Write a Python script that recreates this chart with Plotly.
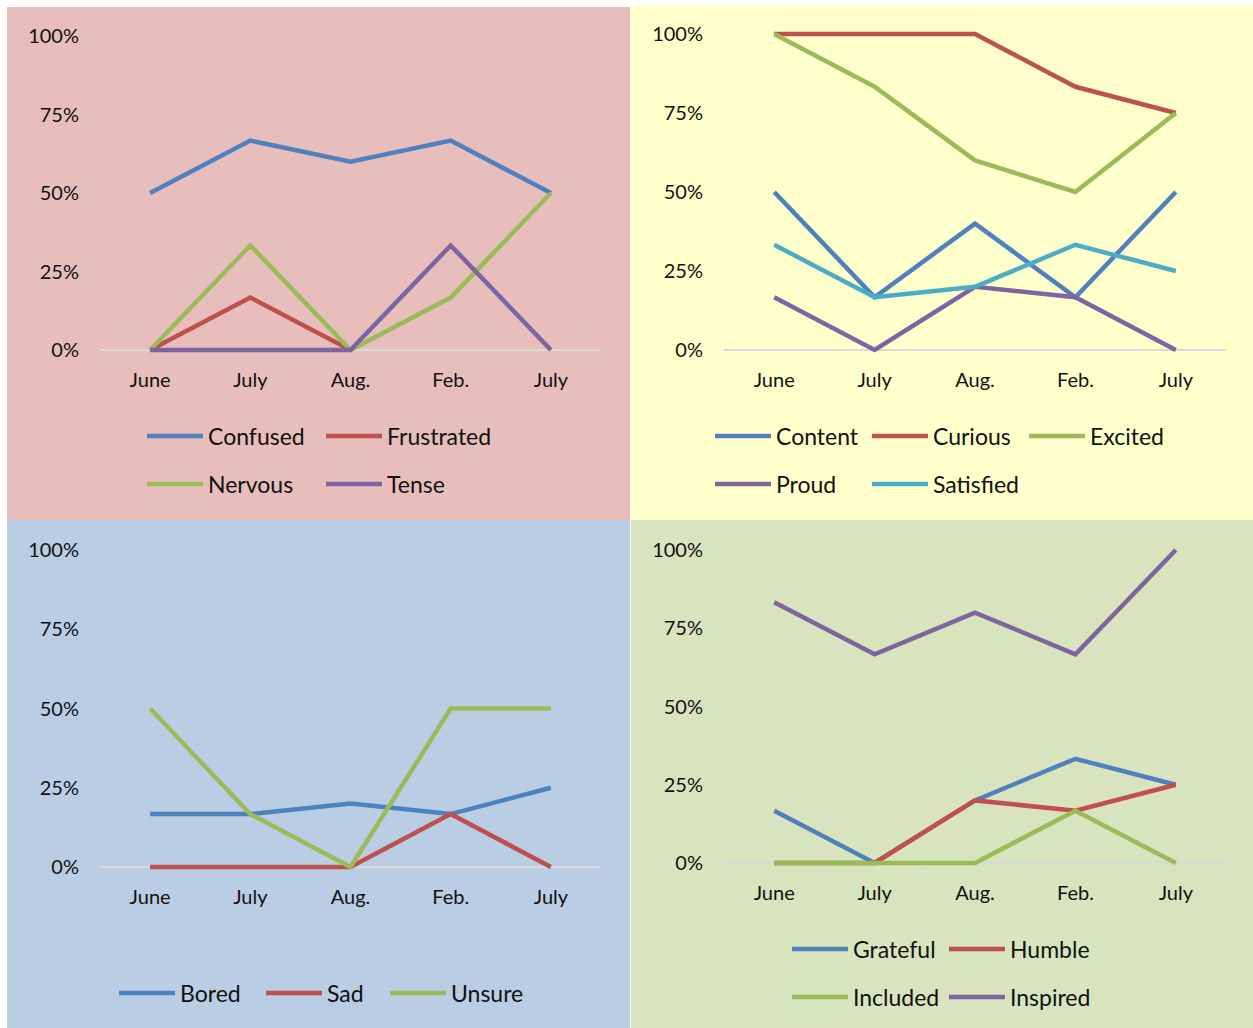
import plotly.graph_objects as go

# ---- data -------------------------------------------------------------
months = ["June", "July", "Aug.", "Feb.", "July"]
month_pos = [0, 1, 2, 3, 4]
pct_ticks = [0, 0.25, 0.5, 0.75, 1.0]
pct_labels = ["0%", "25%", "50%", "75%", "100%"]

# negative feelings
confused = [0.50, 0.667, 0.60, 0.667, 0.50]
frustrated = [0.0, 0.167, 0.0, None, None]
nervous = [0.0, 0.333, 0.0, 0.167, 0.50]
tense = [0.0, 0.0, 0.0, 0.333, 0.0]

# positive / engaged feelings
content = [0.50, 0.167, 0.40, 0.167, 0.50]
curious = [1.0, 1.0, 1.0, 0.833, 0.75]
excited = [1.0, 0.833, 0.60, 0.50, 0.75]
proud = [0.167, 0.0, 0.20, 0.167, 0.0]
satisfied = [0.333, 0.167, 0.20, 0.333, 0.25]

# low-energy feelings
bored = [0.167, 0.167, 0.20, 0.167, 0.25]
sad = [0.0, 0.0, 0.0, 0.167, 0.0]
unsure = [0.50, 0.167, 0.0, 0.50, 0.50]

# social feelings
grateful = [0.167, 0.0, 0.20, 0.333, 0.25]
humble = [0.0, 0.0, 0.20, 0.167, 0.25]
included = [0.0, 0.0, 0.0, 0.167, 0.0]
inspired = [0.833, 0.667, 0.80, 0.667, 1.0]

# ---- styling ----------------------------------------------------------
W, H = 1253, 1028
BLUE, RED, GREEN, PURPLE, AQUA = "#4F81BD", "#C0504D", "#9BBB59", "#8064A2", "#4BACC6"
FONT = "Lato"
TXT = "#111111"
AXIS_GREY = "#D9D9D9"
LW = 4.5
YR = (-0.05, 1.05)


def px_x(v):
    return v / W


def px_y(v):
    return 1 - v / H


panels = [
    dict(bg="#E7BEBC", box=(7, 7, 630, 520), x=(100, 601), y0=350, y100=36, ticks=False,
         series=[("Confused", confused, BLUE), ("Frustrated", frustrated, RED),
                 ("Nervous", nervous, GREEN), ("Tense", tense, PURPLE)],
         legend=[(147, 436), (326, 436), (147, 484), (326, 484)]),
    dict(bg="#FFFFCC", box=(631, 5, 1253, 520), x=(724, 1226), y0=350, y100=34, ticks=False,
         series=[("Content", content, BLUE), ("Curious", curious, RED), ("Excited", excited, GREEN),
                 ("Proud", proud, PURPLE), ("Satisfied", satisfied, AQUA)],
         legend=[(715, 436), (872, 436), (1029, 436), (715, 484), (872, 484)]),
    dict(bg="#B9CDE5", box=(7, 520, 630, 1028), x=(100, 601), y0=867, y100=550, ticks=False,
         series=[("Bored", bored, BLUE), ("Sad", sad, RED), ("Unsure", unsure, GREEN)],
         legend=[(119, 993), (266, 993), (390, 993)]),
    dict(bg="#D7E4BD", box=(631, 520, 1253, 1028), x=(724, 1226), y0=863, y100=550, ticks=True,
         series=[("Grateful", grateful, BLUE), ("Humble", humble, RED),
                 ("Included", included, GREEN), ("Inspired", inspired, PURPLE)],
         legend=[(792, 949), (949, 949), (792, 997), (949, 997)]),
]

fig = go.Figure()
shapes, annotations = [], []

for i, p in enumerate(panels):
    n = "" if i == 0 else str(i + 1)
    xa, ya = "x" + n, "y" + n

    # panel background
    bx0, by0, bx1, by1 = p["box"]
    shapes.append(dict(type="rect", xref="paper", yref="paper", layer="below",
                       x0=px_x(bx0), x1=px_x(bx1), y0=px_y(by1), y1=px_y(by0),
                       fillcolor=p["bg"], line=dict(width=0)))

    # axis geometry
    unit = p["y0"] - p["y100"]
    top_px = p["y100"] - (YR[1] - 1) * unit
    bot_px = p["y0"] - YR[0] * unit
    xdom = [px_x(p["x"][0]), px_x(p["x"][1])]
    ydom = [px_y(bot_px), px_y(top_px)]

    for name, vals, col in p["series"]:
        fig.add_trace(go.Scatter(x=month_pos, y=vals, mode="lines", name=name,
                                 line=dict(color=col, width=LW), showlegend=False,
                                 xaxis=xa, yaxis=ya, connectgaps=False))

    xaxis = dict(domain=xdom, range=[-0.5, 4.5], anchor="free", position=px_y(p["y0"]),
                 tickvals=month_pos, ticktext=months, showgrid=False, zeroline=False,
                 showline=True, linecolor=AXIS_GREY, linewidth=1.5, ticks="",
                 layer="below traces", ticklabelstandoff=12,
                 tickfont=dict(family=FONT, size=20, color=TXT), fixedrange=True)
    if p["ticks"]:
        xaxis["minor"] = dict(tickvals=[-0.5, 0.5, 1.5, 2.5, 3.5, 4.5], ticks="outside",
                              ticklen=6, tickcolor=AXIS_GREY, tickwidth=1.5)
        xaxis["ticklabelstandoff"] = 12
    yaxis = dict(domain=ydom, range=list(YR), anchor=xa, tickvals=pct_ticks, ticktext=pct_labels,
                 showgrid=False, zeroline=False, showline=False, ticks="",
                 layer="below traces", ticklabelstandoff=20,
                 tickfont=dict(family=FONT, size=20, color=TXT), fixedrange=True)
    fig.update_layout(**{"xaxis" + n: xaxis, "yaxis" + n: yaxis})

    # legend keys and labels
    for (name, vals, col), (lx, ly) in zip(p["series"], p["legend"]):
        shapes.append(dict(type="line", xref="paper", yref="paper",
                           x0=px_x(lx), x1=px_x(lx + 56), y0=px_y(ly), y1=px_y(ly),
                           line=dict(color=col, width=LW)))
        annotations.append(dict(xref="paper", yref="paper", x=px_x(lx + 59), y=px_y(ly),
                                text=name, showarrow=False, xanchor="left", yanchor="middle",
                                font=dict(family=FONT, size=23, color=TXT)))

fig.update_layout(width=W, height=H, margin=dict(l=0, r=0, t=0, b=0),
                  paper_bgcolor="white", plot_bgcolor="rgba(0,0,0,0)",
                  shapes=shapes, annotations=annotations, showlegend=False)

fig.write_html("out.html")
